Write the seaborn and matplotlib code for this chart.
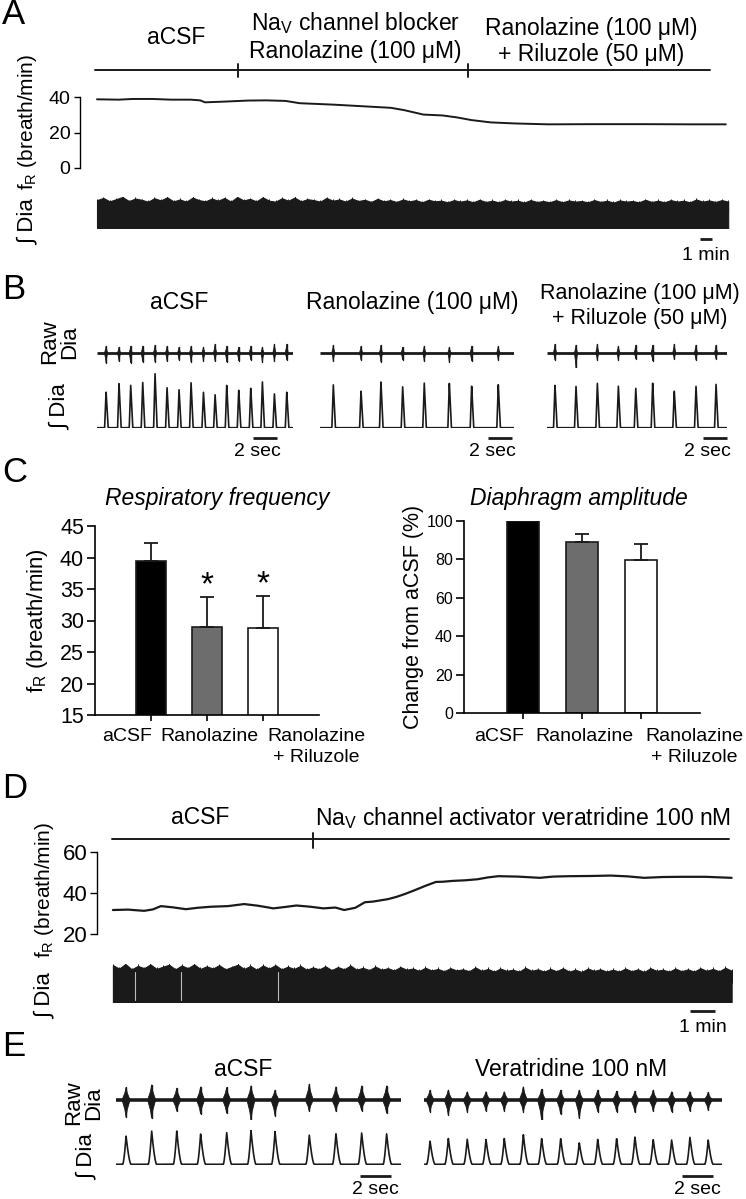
import numpy as np
import pandas as pd
import matplotlib
matplotlib.use("Agg")
import matplotlib.pyplot as plt
import matplotlib.transforms as mtransforms
import seaborn as sns

sns.set_theme(style="white")
plt.rcParams['font.family'] = ['Liberation Sans', 'DejaVu Sans']
plt.rcParams['mathtext.fontset'] = 'custom'
plt.rcParams['mathtext.rm'] = 'Liberation Sans'
plt.rcParams['mathtext.it'] = 'Liberation Sans:italic'
for k in ['text.color', 'axes.labelcolor', 'xtick.color', 'ytick.color', 'axes.edgecolor']:
    plt.rcParams[k] = 'black'

# ---------------- DATA ----------------
# Panel A : respiratory frequency (breath/min) vs time (min)
A_time = [0, 1.8, 3.0, 4.6, 6.2, 7.8, 8.6, 9.0, 10.6, 12.6, 14.1, 15.7, 16.9, 19.7, 22.1,
          24.5, 25.6, 27.2, 28.8, 30.0, 31.2, 32.8, 34.8, 37.6, 41.5, 45.5, 49.5, 52.4]
A_fR = [38.7, 38.5, 38.9, 38.9, 38.5, 38.5, 38.1, 37.0, 37.4, 38.0, 38.1, 37.8, 36.5, 35.7, 34.8,
        33.9, 32.6, 30.1, 29.6, 28.5, 27.0, 25.7, 25.1, 24.6, 24.7, 24.7, 24.6, 24.6]
A_protocol_bounds = [-0.2, 11.75, 30.9, 51.1]
A_protocol_labels = ["aCSF",
                     "Na$_\\mathregular{V}$ channel blocker\nRanolazine (100 μM)",
                     "Ranolazine (100 μM)\n+ Riluzole (50 μM)"]
A_dia_end = 52.6
A_dia_env = [0.90, 0.97, 0.86, 0.93, 1.00, 0.87, 0.95, 0.91, 0.85, 0.96,
             0.89, 0.99, 0.86, 0.92, 0.85, 0.98, 0.90, 0.86, 0.95, 0.88,
             0.97, 0.85, 1.00, 0.89, 0.94, 0.86, 0.99, 0.88, 0.85, 0.96,
             0.88, 0.98, 0.86, 0.93, 0.90, 0.85, 0.97, 0.88, 0.92, 0.85,
             0.95, 0.87, 0.91, 0.84, 0.94, 0.86, 0.90, 0.84, 0.92, 0.86,
             0.90, 0.83, 0.91, 0.86, 0.88, 0.83, 0.90, 0.85, 0.89, 0.83,
             0.91, 0.84, 0.88, 0.83, 0.90, 0.85, 0.88, 0.82, 0.90, 0.84,
             0.87, 0.83, 0.90, 0.83, 0.89, 0.85, 0.87, 0.83, 0.90, 0.84,
             0.88, 0.82, 0.89, 0.85, 0.87, 0.83, 0.91, 0.84, 0.88, 0.83,
             0.90, 0.85, 0.88, 0.83, 0.92, 0.85, 0.89, 0.84, 0.90, 0.85]

# Panel B : burst times (s) and amplitudes (a.u.)
B_titles = ["aCSF", "Ranolazine (100 μM)", "Ranolazine (100 μM)\n+ Riluzole (50 μM)"]
B_end = [16.3, 16.17, 14.95]
B_times = [
    [0.73, 1.81, 2.78, 3.78, 4.81, 5.81, 6.81, 7.81, 8.84, 9.81, 10.78, 11.78, 12.78, 13.75, 14.75, 15.78],
    [1.11, 3.42, 5.08, 6.89, 8.69, 10.78, 12.64, 14.86],
    [0.64, 2.39, 4.17, 5.92, 7.37, 8.78, 10.58, 12.39, 14.06],
]
B_int_amp = [
    [36, 44, 43, 46, 54, 40, 38, 45, 36, 33, 43, 38, 40, 46, 34, 36],
    [43, 37, 46, 41, 45, 45, 42, 43],
    [43, 42, 45, 42, 40, 45, 37, 42, 44],
]
B_raw_up = [
    [7, 6, 7, 7, 8, 7, 6, 7, 6, 9, 7, 6, 7, 6, 9, 9],
    [8, 7, 8, 6, 7, 6, 7, 7],
    [9, 8, 9, 7, 8, 8, 9, 8, 8],
]
B_raw_down = [
    [10, 8, 10, 9, 9, 8, 7, 9, 8, 8, 9, 8, 7, 9, 8, 7],
    [8, 7, 9, 7, 8, 9, 8, 7],
    [7, 15, 7, 7, 6, 8, 6, 7, 6],
]
B_scalebar_start = [12.95, 13.98, 12.95]

# Panel C : group means +- SEM
C_groups = ["aCSF", "Ranolazine", "Ranolazine\n+ Riluzole"]
C_colors = ["black", "#6d6d6d", "white"]
C_freq_mean = [39.4, 29.0, 28.8]
C_freq_sem = [2.9, 4.7, 5.1]
C_freq_sig = [False, True, True]
C_amp_mean = [100.0, 89.1, 79.7]
C_amp_sem = [0.0, 4.1, 8.3]

# Panel D : respiratory frequency vs time (min)
D_time = [0, 0.6, 1.25, 1.6, 1.92, 2.4, 2.92, 3.4, 3.92, 4.6, 5.25, 5.8, 6.42, 6.9, 7.34, 7.9,
          8.42, 8.9, 9.25, 9.7, 10.08, 10.4, 10.75, 11.0, 11.34, 11.7, 12.08, 12.5, 12.92, 13.2,
          13.58, 14.1, 14.58, 15.0, 15.42, 16.2, 17.08, 17.6, 18.25, 19.1, 19.92, 20.6, 21.25,
          22.0, 22.75, 23.7, 24.75]
D_fR = [31.7, 31.9, 31.3, 32.0, 33.6, 33.0, 32.1, 32.8, 33.3, 33.6, 34.6, 33.8, 32.5, 33.2, 33.9,
        33.3, 32.5, 32.9, 31.7, 32.8, 35.5, 35.8, 36.5, 37.0, 38.1, 39.6, 41.4, 43.5, 45.4, 45.5,
        45.9, 46.2, 46.7, 47.6, 48.2, 48.0, 47.4, 48.0, 48.2, 48.3, 48.5, 48.1, 47.4, 47.8, 47.9,
        47.9, 47.4]
D_protocol_bounds = [-0.04, 8.0, 24.64]
D_protocol_labels = ["aCSF", "Na$_\\mathregular{V}$ channel activator veratridine 100 nM"]
D_dia_end = 24.75
D_dia_env = [0.97, 0.88, 1.00, 0.86, 0.95, 0.89, 0.99, 0.87, 0.93, 0.98,
             0.86, 0.96, 0.89, 0.99, 0.87, 0.94, 0.88, 0.97, 0.86, 0.92,
             0.98, 0.87, 0.95, 0.85, 0.96, 0.88, 0.97, 0.86, 0.93, 0.87,
             0.95, 0.85, 0.91, 0.86, 0.94, 0.84, 0.92, 0.86, 0.96, 0.85,
             0.90, 0.84, 0.93, 0.85, 0.89, 0.83, 0.92, 0.85, 0.88, 0.82,
             0.90, 0.83, 0.87, 0.81, 0.89, 0.83, 0.86, 0.81, 0.91, 0.82,
             0.87, 0.80, 0.88, 0.82, 0.85, 0.80, 0.90, 0.82, 0.86, 0.80,
             0.87, 0.81, 0.89, 0.80, 0.85, 0.79, 0.88, 0.82, 0.86, 0.80,
             0.85, 0.80, 0.88, 0.81, 0.86, 0.79, 0.89, 0.82, 0.85, 0.80,
             0.88, 0.81, 0.86, 0.80, 0.89, 0.82, 0.87, 0.81, 0.90, 0.82]
D_gap_times = [0.87, 2.72, 6.62]

# Panel E : burst times (s) and amplitudes (a.u.)
E_titles = ["aCSF", "Veratridine 100 nM"]
E_end = [18.37, 19.23]
E_times = [
    [0.65, 2.30, 3.92, 5.46, 7.14, 8.71, 10.26, 12.47, 14.19, 15.85, 17.46],
    [0.37, 1.55, 2.77, 3.98, 5.16, 6.39, 7.57, 8.80, 10.0, 11.19, 12.41, 13.59, 14.77, 15.96, 17.14, 18.32],
]
E_int_amp = [
    [28.3, 33.7, 33.3, 30.7, 32.0, 33.7, 32.7, 29.3, 31.0, 31.7, 31.0],
    [23.3, 26.0, 25.0, 25.0, 26.0, 30.0, 26.0, 26.0, 21.7, 25.0, 26.0, 27.7, 25.0, 24.3, 27.0, 24.3],
]
E_raw_up = [
    [12.7, 15.3, 12.0, 13.3, 12.7, 14.3, 10.0, 16.0, 13.3, 14.3, 14.3],
    [10, 10, 8.3, 8.3, 8.3, 13.3, 11, 10, 10, 10, 9, 9, 10, 8.3, 8.3, 7.7],
]
E_raw_down = [
    [17.3, 18.3, 11.3, 14.0, 13.3, 20.7, 15.7, 11.3, 11.3, 10.7, 13.3],
    [11.7, 15, 11.7, 11, 11, 11.7, 20, 14.3, 18.3, 11.7, 11.7, 12.3, 11, 11.7, 11, 10],
]
E_scalebar_start = [15.74, 16.63]

# ---------------- FIGURE ----------------
W, H = 746, 1199
fig = plt.figure(figsize=(W / 100, H / 100), dpi=100)
px_tr = mtransforms.Affine2D().scale(1 / W, -1 / H).translate(0, 1) + fig.transFigure


def add_ax(x0, y0, x1, y1):
    ax = fig.add_axes([x0 / W, 1 - y1 / H, (x1 - x0) / W, (y1 - y0) / H])
    ax.patch.set_alpha(0)
    return ax


def ftext(x, y, s, **kw):
    kw.setdefault('ha', 'center')
    kw.setdefault('va', 'center')
    return fig.text(x / W, 1 - y / H, s, **kw)


def blend(ax):
    return mtransforms.blended_transform_factory(ax.transData, px_tr)


def clean(ax):
    for s in ax.spines.values():
        s.set_visible(False)
    ax.set_xticks([])
    ax.set_yticks([])
    ax.set_xlabel('')
    ax.set_ylabel('')


def draw_protocol(ax, bounds, y, up, down, labels, label_t, label_y, fs):
    tr = blend(ax)
    ax.plot([bounds[0], bounds[-1]], [y, y], transform=tr, color='k', lw=1.4, clip_on=False)
    for b in bounds[1:-1]:
        ax.plot([b, b], [y - up, y + down], transform=tr, color='k', lw=1.4, clip_on=False)
    for lab, t, ly in zip(labels, label_t, label_y):
        ax.text(t, ly, lab, transform=tr, ha='center', va='center', fontsize=fs,
                multialignment='center', linespacing=1.2)


def scalebar(ax, t0, length, y, text, ty, tx=None, fs=14):
    tr = blend(ax)
    ax.plot([t0, t0 + length], [y, y], transform=tr, color='k', lw=2.0, clip_on=False,
            solid_capstyle='butt')
    if tx is None:
        tx = t0 + length / 2
    ax.text(tx, ty, text, transform=tr, ha='center', va='center', fontsize=fs)


def draw_band(ax, t_end, env, gaps=()):
    t = np.linspace(0, t_end, len(env))
    ax.fill_between(t, 0, env, color='k', lw=0.8, edgecolor='k')
    ax.vlines(t, 0.5, np.asarray(env) + 0.04, color='k', lw=0.7)
    for g in gaps:
        ax.plot([g, g], [0.05, 0.8], color='#bbbbbb', lw=0.8)


def draw_raw(ax, t_end, times, ups, downs, hw, base_lw):
    ax.plot([0, t_end], [0, 0], color='k', lw=base_lw, solid_capstyle='butt')
    for t, u, d in zip(times, ups, downs):
        ax.fill([t - hw, t - 0.3 * hw, t, t + 0.3 * hw, t + hw, t + 0.3 * hw, t, t - 0.3 * hw],
                [0, 0.55 * u, u, 0.55 * u, 0, -0.55 * d, -d, -0.55 * d],
                color='k', lw=0.6)
        ax.plot([t, t], [-d, u], color='k', lw=1.0)


def draw_int(ax, t_end, times, amps, rise, decay, power=1.0):
    tg = np.linspace(0, t_end, 3000)
    y = np.zeros_like(tg)
    for t0, a in zip(times, amps):
        dt = tg - t0
        shp = np.where(dt < 0, np.clip(1 + dt / rise, 0, 1), np.clip(1 - dt / decay, 0, 1))
        y = np.maximum(y, a * shp ** power)
    sns.lineplot(x=tg, y=y, ax=ax, color='k', lw=1.2)


LETTER_FS = 25
COND_FS = 16.5
SIDE_FS = 16

# ---------------- PANEL A ----------------
ftext(2, 15, "A", fontsize=LETTER_FS, ha='left')
A_px_per_min = 12.0
A_x0, A_x1, A_t0px = 80, 730, 97
A_xlim = ((A_x0 - A_t0px) / A_px_per_min, (A_x1 - A_t0px) / A_px_per_min)

axA = add_ax(A_x0, 97, A_x1, 168)
sns.lineplot(x=A_time, y=A_fR, ax=axA, color='k', lw=1.4)
axA.set_xlim(*A_xlim)
axA.set_ylim(0, 40)
for s in ['top', 'right', 'bottom']:
    axA.spines[s].set_visible(False)
axA.spines['left'].set_linewidth(1.0)
axA.set_xticks([])
axA.set_yticks([0, 20, 40])
axA.tick_params(axis='y', length=4, width=1.0, labelsize=14, pad=3, left=True)
axA.set_xlabel('')
axA.set_ylabel('')
draw_protocol(axA, A_protocol_bounds, 70, 6, 7, A_protocol_labels,
              [6.6, 21.5, 41.2], [38, 36.5, 41.5], COND_FS)

axAb = add_ax(A_x0, 197, A_x1, 228)
draw_band(axAb, A_dia_end, A_dia_env)
axAb.set_xlim(*A_xlim)
axAb.set_ylim(0, 1)
clean(axAb)
scalebar(axAb, 50.25, 1.0, 239, "1 min", 256)

ftext(28, 122, r"f$_\mathregular{R}$ (breath/min)", rotation=90, fontsize=15)
ftext(28, 222, "∫ Dia", rotation=90, fontsize=SIDE_FS)

# ---------------- PANEL B ----------------
ftext(2, 289, "B", fontsize=LETTER_FS, ha='left')
B_x = [(97.3, 293), (320, 514), (547.3, 726.7)]
B_title_pos = [(179, 303), (412, 303), (640, 306)]
B_title_fs = [COND_FS, COND_FS, 15.5]
for i in range(3):
    x0, x1 = B_x[i]
    axr = add_ax(x0, 338, x1, 368)
    draw_raw(axr, B_end[i], B_times[i], B_raw_up[i], B_raw_down[i], 0.13, 2.0)
    axr.set_xlim(0, B_end[i])
    axr.set_ylim(-15, 15)
    clean(axr)
    axi = add_ax(x0, 370, x1, 428)
    draw_int(axi, B_end[i], B_times[i], B_int_amp[i], 0.12, 0.17)
    axi.set_xlim(0, B_end[i])
    axi.set_ylim(-0.3, 57.7)
    clean(axi)
    scalebar(axi, B_scalebar_start[i], 2.0, 438, "2 sec", 452, tx=B_scalebar_start[i] + 1.0 - 0.6)
    ftext(*B_title_pos[i], B_titles[i], fontsize=B_title_fs[i], multialignment='center', linespacing=1.2)

ftext(60, 342, "Raw\nDia", rotation=90, fontsize=SIDE_FS, linespacing=0.95, multialignment='center')
ftext(60, 407, "∫ Dia", rotation=90, fontsize=SIDE_FS)

# ---------------- PANEL C ----------------
ftext(2, 472, "C", fontsize=LETTER_FS, ha='left')
dfC = pd.DataFrame({"group": C_groups, "freq": C_freq_mean, "amp": C_amp_mean})
pal = dict(zip(C_groups, C_colors))


def bar_panel(ax, col, means, sems, ylim, yticks, tick_fs):
    sns.barplot(data=dfC, x="group", y=col, hue="group", palette=pal, saturation=1,
                edgecolor='k', linewidth=1.2, width=0.54, legend=False, errorbar=None, ax=ax)
    ax.errorbar(range(3), means, yerr=[np.zeros(3), sems], fmt='none', ecolor='k',
                elinewidth=1.3, capsize=5, capthick=1.3, zorder=1)
    ax.set_xlim(-1.0, 3.0)
    ax.set_ylim(*ylim)
    ax.set_yticks(yticks)
    ax.set_xticks([0, 1, 2])
    ax.set_xticklabels([])
    ax.set_xlabel('')
    ax.set_ylabel('')
    sns.despine(ax=ax)
    for s in ['left', 'bottom']:
        ax.spines[s].set_linewidth(1.2)
    ax.tick_params(axis='y', length=6, width=1.2, labelsize=tick_fs, pad=2, left=True)
    ax.tick_params(axis='x', length=4, width=1.2, bottom=True)
    tr = blend(ax)
    offs = [(1, 'right'), (2, 'center'), (4, 'left')]
    for i, lab in enumerate(C_groups):
        dx, ha = offs[i]
        t = tr + mtransforms.ScaledTranslation(dx / 100, 0, fig.dpi_scale_trans)
        ax.text(i, 728, lab, transform=t, ha=ha, va='top', fontsize=14,
                multialignment='center', linespacing=1.3)


axC1 = add_ax(95, 526, 319, 715)
bar_panel(axC1, "freq", C_freq_mean, C_freq_sem, (15, 45), [15, 20, 25, 30, 35, 40, 45], 15.5)
for i, sig in enumerate(C_freq_sig):
    if sig:
        axC1.text(i, C_freq_mean[i] + C_freq_sem[i] + 0.5, "*", ha='center', va='baseline', fontsize=24)
ftext(217, 498, "Respiratory frequency", fontsize=COND_FS, style='italic')
ftext(38, 621, r"f$_\mathregular{R}$ (breath/min)", rotation=90, fontsize=16)

axC2 = add_ax(464, 521, 700, 713)
bar_panel(axC2, "amp", C_amp_mean, C_amp_sem, (0, 100), [0, 20, 40, 60, 80, 100], 11.5)
ftext(579, 498, "Diaphragm amplitude", fontsize=COND_FS, style='italic')
ftext(414, 617, "Change from aCSF (%)", rotation=90, fontsize=15.5)

# ---------------- PANEL D ----------------
ftext(2, 789, "D", fontsize=LETTER_FS, ha='left')
D_px_per_min = 25.0
D_x0, D_x1, D_t0px = 97, 735, 112.9
D_xlim = ((D_x0 - D_t0px) / D_px_per_min, (D_x1 - D_t0px) / D_px_per_min)
axD = add_ax(D_x0, 852, D_x1, 934)
sns.lineplot(x=D_time, y=D_fR, ax=axD, color='k', lw=1.6)
axD.set_xlim(*D_xlim)
axD.set_ylim(20, 60)
for s in ['top', 'right', 'bottom']:
    axD.spines[s].set_visible(False)
axD.spines['left'].set_linewidth(1.0)
axD.set_xticks([])
axD.set_yticks([20, 40, 60])
axD.tick_params(axis='y', length=5, width=1.0, labelsize=16, pad=2, left=True)
axD.set_xlabel('')
axD.set_ylabel('')
draw_protocol(axD, D_protocol_bounds, 839, 6, 9, D_protocol_labels, [3.5, 16.42], [818, 818], COND_FS)

axDb = add_ax(D_x0, 964, D_x1, 1002)
draw_band(axDb, D_dia_end, D_dia_env, D_gap_times)
axDb.set_xlim(*D_xlim)
axDb.set_ylim(0, 1)
clean(axDb)
scalebar(axDb, 23.08, 1.0, 1011, "1 min", 1027)

ftext(45, 890, r"f$_\mathregular{R}$ (breath/min)", rotation=90, fontsize=15)
ftext(45, 996, "∫ Dia", rotation=90, fontsize=SIDE_FS)

# ---------------- PANEL E ----------------
ftext(2, 1046, "E", fontsize=LETTER_FS, ha='left')
E_x = [(116, 400.7), (424.3, 722.3)]
E_title_pos = [(243, 1070), (571, 1070)]
for i in range(2):
    x0, x1 = E_x[i]
    axr = add_ax(x0, 1080, x1, 1120)
    draw_raw(axr, E_end[i], E_times[i], E_raw_up[i], E_raw_down[i], 0.26, 2.6)
    axr.set_xlim(0, E_end[i])
    axr.set_ylim(-20, 20)
    clean(axr)
    axi = add_ax(x0, 1128, x1, 1165)
    draw_int(axi, E_end[i], E_times[i], E_int_amp[i], 0.22, 0.32, power=1.6)
    axi.set_xlim(0, E_end[i])
    axi.set_ylim(-0.7, 36.3)
    clean(axi)
    scalebar(axi, E_scalebar_start[i], 2.0, 1176, "2 sec", 1190)
    ftext(*E_title_pos[i], E_titles[i], fontsize=COND_FS)

ftext(84, 1103, "Raw\nDia", rotation=90, fontsize=SIDE_FS, linespacing=0.95, multialignment='center')
ftext(87, 1157, "∫ Dia", rotation=90, fontsize=SIDE_FS)

fig.savefig("out.png", dpi=100)
